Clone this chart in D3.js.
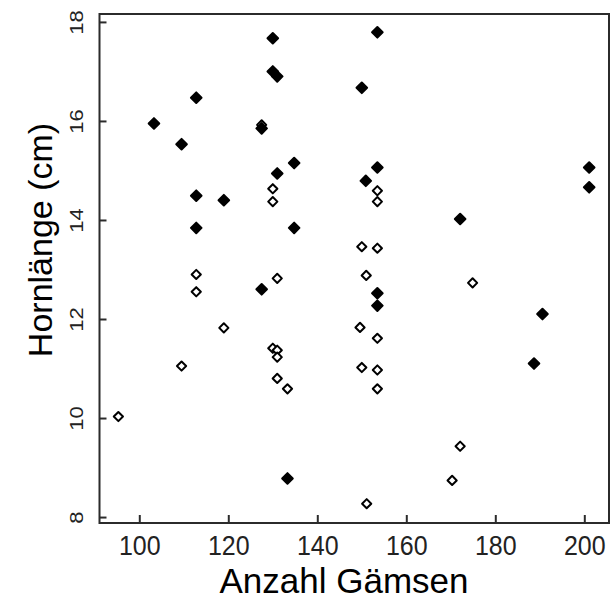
<!DOCTYPE html>
<html>
<head>
<meta charset="utf-8">
<script src="https://cdn.jsdelivr.net/npm/d3@7"></script>
<style>
  html, body { margin: 0; padding: 0; background: #fff; }
  svg { display: block; }
  text { font-family: Arial, "Liberation Sans", sans-serif; }
</style>
</head>
<body>
<svg id="chart" width="612" height="600"></svg>
<script>
// Filled markers: [Anzahl Gämsen, Hornlänge (cm)]
const filledX = [130, 130, 131, 112.8, 103.3, 127.5, 109.5, 134.8, 131, 112.8, 119, 112.8, 134.8,
                 153.5, 150, 153.5, 150.9, 172.1, 201.1, 201.1, 153.5, 153.5, 190.6, 188.7, 127.5, 133.3];
const filledY = [17.67, 17.0, 16.9, 16.47, 15.95, 15.85, 15.53, 15.15, 14.94, 14.49, 14.40, 13.84, 13.84,
                 17.79, 16.67, 15.06, 14.79, 14.02, 15.06, 14.66, 12.52, 12.27, 12.10, 11.10, 12.60, 8.78];
// Open markers
const openX = [127.5, 130, 130, 153.5, 153.5, 150, 153.5, 151, 174.9, 149.6, 153.5, 150, 153.5, 153.5,
               172.1, 170.3, 151.1, 112.8, 112.8, 131, 119, 109.5, 130, 131, 131, 131, 133.3, 95.3];
const openY = [15.92, 14.63, 14.37, 14.59, 14.37, 13.46, 13.43, 12.88, 12.73, 11.83, 11.61, 11.02, 10.97, 10.59,
               9.43, 8.74, 8.27, 12.90, 12.55, 12.82, 11.82, 11.05, 11.41, 11.37, 11.23, 10.80, 10.59, 10.03];

const xTicks = [100, 120, 140, 160, 180, 200];
const yTicks = [8, 10, 12, 14, 16, 18];
const xTitle = "Anzahl Gämsen";
const yTitle = "Hornlänge (cm)";

const svg = d3.select("#chart");
const L = 99.5, R = 609, T = 14, B = 523;

const x = d3.scaleLinear().domain([91.06, 205.55]).range([L, R]);
const y = d3.scaleLinear().domain([7.88, 18.16]).range([B, T]);

// frame
svg.append("rect")
  .attr("x", L).attr("y", T).attr("width", R - L).attr("height", B - T)
  .attr("fill", "none").attr("stroke", "#2b2b2b").attr("stroke-width", 2);

// x axis
const gx = svg.append("g").attr("transform", `translate(0,${B})`)
  .call(d3.axisBottom(x).tickValues(xTicks).tickSizeInner(-8).tickSizeOuter(0));
gx.select(".domain").remove();
gx.selectAll(".tick line").attr("stroke", "#2b2b2b").attr("stroke-width", 2);
gx.selectAll(".tick text")
  .attr("y", null).attr("dy", null)
  .attr("transform", "translate(0,32) scale(1,1.1)")
  .attr("font-size", 25).attr("fill", "#222");

// y axis
const gy = svg.append("g").attr("transform", `translate(${L},0)`)
  .call(d3.axisLeft(y).tickValues(yTicks).tickSizeInner(-7).tickSizeOuter(0));
gy.select(".domain").remove();
gy.selectAll(".tick line").attr("stroke", "#2b2b2b").attr("stroke-width", 2);
gy.selectAll(".tick text")
  .attr("x", null).attr("dy", null)
  .attr("text-anchor", "middle")
  .attr("transform", "translate(-17,0) rotate(-90) scale(1,0.85)")
  .attr("font-size", 22).attr("fill", "#222");

// titles
svg.append("text")
  .attr("x", 344).attr("y", 593)
  .attr("text-anchor", "middle").attr("font-size", 35).attr("fill", "#000")
  .text(xTitle);
svg.append("text")
  .attr("transform", "translate(52,240) rotate(-90)")
  .attr("text-anchor", "middle").attr("font-size", 34).attr("fill", "#000")
  .text(yTitle);

// markers
const diamond = (r) => `M0,${-r}L${r},0L0,${r}L${-r},0Z`;

svg.append("g").selectAll("path")
  .data(d3.zip(openX, openY))
  .join("path")
  .attr("transform", d => `translate(${x(d[0])},${y(d[1])})`)
  .attr("d", diamond(4.6))
  .attr("fill", "#fff").attr("stroke", "#000").attr("stroke-width", 2)
  .attr("stroke-linejoin", "round");

svg.append("g").selectAll("path")
  .data(d3.zip(filledX, filledY))
  .join("path")
  .attr("transform", d => `translate(${x(d[0])},${y(d[1])})`)
  .attr("d", diamond(5.3))
  .attr("fill", "#000").attr("stroke", "#000").attr("stroke-width", 2)
  .attr("stroke-linejoin", "round");
</script>
</body>
</html>
